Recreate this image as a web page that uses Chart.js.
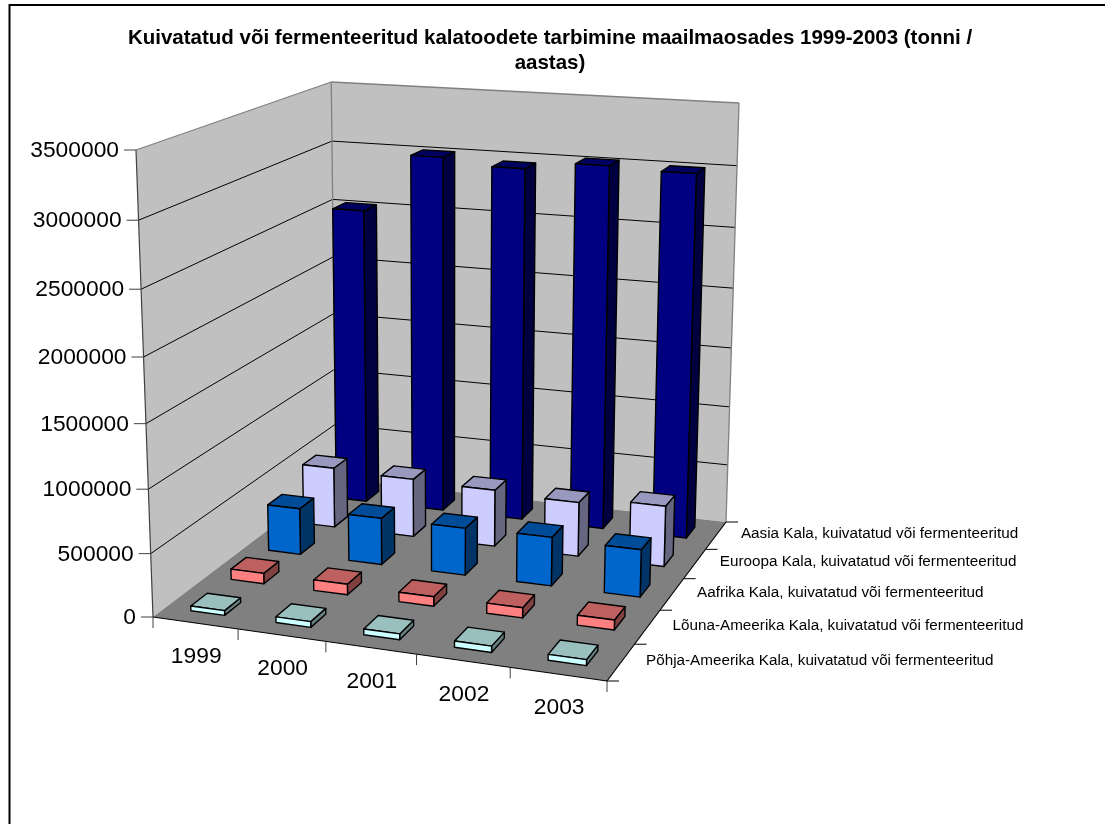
<!DOCTYPE html>
<html>
<head>
<meta charset="utf-8">
<title>Kalatoodete tarbimine</title>
<script src="https://cdn.jsdelivr.net/npm/chart.js@4/dist/chart.umd.min.js"></script>
<style>
  html, body { margin: 0; padding: 0; background: #ffffff; }
  canvas { display: block; }
</style>
</head>
<body>
<canvas id="chart" width="1105" height="824"></canvas>
<script>
const titleLines = ["Kuivatatud või fermenteeritud kalatoodete tarbimine maailmaosades 1999-2003 (tonni /", "aastas)"];
const years = ["1999", "2000", "2001", "2002", "2003"];
const yTicks = [0, 500000, 1000000, 1500000, 2000000, 2500000, 3000000, 3500000];

const seriesNames = [
  "Põhja-Ameerika Kala, kuivatatud või fermenteeritud",
  "Lõuna-Ameerika Kala, kuivatatud või fermenteeritud",
  "Aafrika Kala, kuivatatud või fermenteeritud",
  "Euroopa Kala, kuivatatud või fermenteeritud",
  "Aasia Kala, kuivatatud või fermenteeritud"
];
const pohjaAmeerika = [38000, 45000, 45000, 48000, 45000];
const lounaAmeerika = [85000, 85000, 75000, 80000, 78000];
const aafrika = [385000, 385000, 385000, 395000, 380000];
const euroopa = [510000, 490000, 475000, 450000, 500000];
const aasia = [2525000, 3012000, 2960000, 3025000, 3005000];
const seriesValues = [pohjaAmeerika, lounaAmeerika, aafrika, euroopa, aasia];

// front, top, side
const seriesColors = [
  ["#CCFFFF", "#99BFBF", "#668080"],
  ["#FF8080", "#BF6060", "#804040"],
  ["#0066CC", "#004C99", "#003366"],
  ["#CCCCFF", "#9999BF", "#666680"],
  ["#000080", "#000060", "#000040"]
];

// corners of the 3d box on screen, the rest of the camera follows from these
const boxA = [153, 617];  // front left floor
const boxB = [607, 681];  // front right floor
const boxC = [726, 522];  // back right floor
const boxD = [336, 478.5];  // back left floor
const boxE = [136, 150];  // front left top
const boxF = [331, 82];   // back left top
const boxG = [739, 103];  // back right top

const barShare = 0.4;
const axisFont = '22.8px "Liberation Sans", Arial, sans-serif';
const seriesFont = '15.25px "Liberation Sans", Arial, sans-serif';

function makeCamera() {
  const [A, B, C, D, E, F] = [boxA, boxB, boxC, boxD, boxE, boxF];
  // a(B-C) + b(D-C) = C + A - B - D
  const r = [C[0] + A[0] - B[0] - D[0], C[1] + A[1] - B[1] - D[1]];
  const m = [B[0] - C[0], D[0] - C[0], B[1] - C[1], D[1] - C[1]];
  const det = m[0] * m[3] - m[1] * m[2];
  const a = (r[0] * m[3] - m[1] * r[1]) / det;
  const b = (m[0] * r[1] - r[0] * m[2]) / det;
  // c from the back left top corner
  const c = ((1 + b) * (D[1] - F[1]) + E[1] - A[1]) / (F[1] - E[1]);
  const raw = (u, w, t) => {
    const d = 1 + a * u + b * w + c * t;
    const p = i => (A[i] + u * ((1 + a) * B[i] - A[i]) + w * ((1 + b) * D[i] - A[i]) + t * ((1 + c) * E[i] - A[i])) / d;
    return [p(0), p(1)];
  };
  // the true camera can't hit the last corner too, so ease it in
  const far = raw(1, 1, 1);
  const fix = [boxG[0] - far[0], boxG[1] - far[1]];
  return (u, w, t) => {
    const p = raw(u, w, t);
    return [p[0] + fix[0] * u * w * t, p[1] + fix[1] * u * w * t];
  };
}

const project = makeCamera();

function poly(ctx, points, fill, stroke, lineWidth) {
  ctx.beginPath();
  points.forEach((pt, i) => (i ? ctx.lineTo(pt[0], pt[1]) : ctx.moveTo(pt[0], pt[1])));
  ctx.closePath();
  if (fill) {
    ctx.fillStyle = fill;
    ctx.fill();
  }
  if (stroke) {
    ctx.strokeStyle = stroke;
    ctx.lineWidth = lineWidth || 1;
    ctx.stroke();
  }
}

function line(ctx, p, q, color, lineWidth) {
  ctx.beginPath();
  ctx.moveTo(p[0], p[1]);
  ctx.lineTo(q[0], q[1]);
  ctx.strokeStyle = color;
  ctx.lineWidth = lineWidth || 1;
  ctx.stroke();
}

const box3d = {
  id: "box3d",
  beforeDraw(chart) {
    const ctx = chart.ctx;
    ctx.save();
    ctx.fillStyle = "#ffffff";
    ctx.fillRect(0, 0, chart.width, chart.height);
    // the frame runs off the picture at the right and the bottom
    ctx.strokeStyle = "#000000";
    ctx.lineWidth = 2;
    ctx.strokeRect(9.5, 5, 1200, 900);
    ctx.restore();
  },
  beforeDatasetsDraw(chart) {
    const ctx = chart.ctx;
    const xs = chart.scales.x;
    const ys = chart.scales.y;
    const tOf = v => (ys.bottom - ys.getPixelForValue(v)) / ys.height;
    const uOf = i => (xs.getPixelForValue(i) - xs.left) / xs.width;
    const bandU = 1 / years.length;
    const bandW = 1 / seriesNames.length;
    ctx.save();
    ctx.lineJoin = "round";

    // walls and floor
    poly(ctx, [project(0, 0, 0), project(0, 1, 0), project(0, 1, 1), project(0, 0, 1)], "#C0C0C0");
    poly(ctx, [project(0, 1, 0), project(1, 1, 0), project(1, 1, 1), project(0, 1, 1)], "#C0C0C0");
    yTicks.slice(1, -1).forEach(v => {
      const t = tOf(v);
      line(ctx, project(0, 0, t), project(0, 1, t), "#000000");
      line(ctx, project(0, 1, t), project(1, 1, t), "#000000");
    });
    line(ctx, project(0, 0, 1), project(0, 1, 1), "#808080", 1.3);
    line(ctx, project(0, 1, 1), project(1, 1, 1), "#808080", 1.3);
    line(ctx, project(0, 1, 0), project(0, 1, 1), "#808080", 1.3);
    line(ctx, project(1, 1, 0), project(1, 1, 1), "#808080", 1.3);
    poly(ctx, [project(0, 0, 0), project(1, 0, 0), project(1, 1, 0), project(0, 1, 0)], "#808080");

    // axis lines and tick marks
    line(ctx, project(0, 0, 0), project(0, 0, 1), "#404040", 1.2);
    line(ctx, project(0, 0, 0), project(1, 0, 0), "#000000", 1.2);
    line(ctx, project(1, 0, 0), project(1, 1, 0), "#000000", 1.2);
    ctx.fillStyle = "#000000";
    ctx.font = axisFont;
    ctx.textAlign = "right";
    ctx.textBaseline = "middle";
    yTicks.forEach(v => {
      const p = project(0, 0, tOf(v));
      line(ctx, [p[0] - 12, p[1]], p, "#404040");
      ctx.fillText(String(v), p[0] - 17, p[1] + 1);
    });
    ctx.textAlign = "center";
    for (let i = 0; i <= years.length; i += 1) {
      const p = project(i * bandU, 0, 0);
      line(ctx, p, [p[0], p[1] + 11], "#404040");
    }
    years.forEach((year, i) => {
      const p = project(uOf(i), 0, 0);
      ctx.fillText(year, p[0] + 1, p[1] + 34);
    });
    ctx.font = seriesFont;
    ctx.textAlign = "left";
    for (let j = 0; j <= seriesNames.length; j += 1) {
      const p = project(1, j * bandW, 0);
      line(ctx, p, [p[0] + 12, p[1]], "#000000");
    }
    seriesNames.forEach((name, j) => {
      const p = project(1, (j + 0.5) * bandW, 0);
      ctx.fillText(name, p[0] + 25, p[1] - 1.5);
    });

    // bars, back row first
    for (let j = seriesNames.length - 1; j >= 0; j -= 1) {
      const w0 = (j + 0.5 - barShare / 2) * bandW;
      const w1 = (j + 0.5 + barShare / 2) * bandW;
      const [front, top, side] = seriesColors[j];
      seriesValues[j].forEach((v, i) => {
        const u0 = uOf(i) - barShare / 2 * bandU;
        const u1 = uOf(i) + barShare / 2 * bandU;
        const t = tOf(v);
        poly(ctx, [project(u1, w0, 0), project(u1, w1, 0), project(u1, w1, t), project(u1, w0, t)], side, "#000000", 1.4);
        poly(ctx, [project(u0, w0, t), project(u1, w0, t), project(u1, w1, t), project(u0, w1, t)], top, "#000000", 1.4);
        poly(ctx, [project(u0, w0, 0), project(u1, w0, 0), project(u1, w0, t), project(u0, w0, t)], front, "#000000", 1.4);
      });
    }
    ctx.restore();
  },
  // bars are painted above in 3d, the flat ones stay out
  beforeDatasetDraw() {
    return false;
  }
};

new Chart(document.getElementById("chart"), {
  type: "bar",
  data: {
    labels: years,
    datasets: seriesNames.map((name, j) => ({
      label: name,
      data: seriesValues[j],
      backgroundColor: seriesColors[j][0]
    }))
  },
  options: {
    responsive: false,
    animation: false,
    layout: { padding: { top: 16, right: 5 } },
    scales: {
      x: { display: false },
      y: { display: false, min: 0, max: yTicks[yTicks.length - 1], ticks: { stepSize: 500000 } }
    },
    plugins: {
      legend: { display: false },
      tooltip: { enabled: false },
      title: {
        display: true,
        text: titleLines,
        color: "#000000",
        font: { family: '"Liberation Sans", Arial, sans-serif', size: 20.5, weight: "bold", lineHeight: 1.22 }
      }
    }
  },
  plugins: [box3d]
});
</script>
</body>
</html>
